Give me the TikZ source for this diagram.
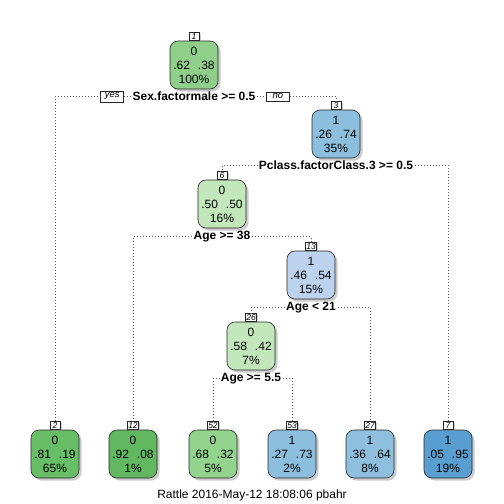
\documentclass[tikz,border=0pt]{standalone}
\usepackage{fontspec}
\setmainfont{Liberation Sans}
\usetikzlibrary{positioning,shadows}

\definecolor{grA}{RGB}{143,207,138}
\definecolor{grB}{RGB}{104,189,103}
\definecolor{grC}{RGB}{97,184,96}
\definecolor{grD}{RGB}{146,212,141}
\definecolor{grE}{RGB}{194,231,186}
\definecolor{blA}{RGB}{140,190,221}
\definecolor{blB}{RGB}{189,211,237}
\definecolor{blC}{RGB}{143,191,222}
\definecolor{blD}{RGB}{88,158,208}

\tikzset{
 leaf/.style={draw=black!85, line width=0.6pt, rounded corners=8pt, minimum width=48pt, minimum height=48pt,
   inner sep=0pt, align=center, font=\fontsize{12}{14}\selectfont,
   drop shadow={shadow xshift=2.5pt, shadow yshift=-2.5pt, fill=black!40}},
 num/.style={draw=black!85, line width=0.5pt, fill=white, inner sep=1pt, minimum width=10pt,
   font=\fontsize{8.5}{9}\selectfont\itshape,
   drop shadow={shadow xshift=1.5pt, shadow yshift=-1.5pt, fill=black!40}},
 split/.style={inner sep=1.5pt, font=\fontsize{12}{14}\selectfont\bfseries},
 yesno/.style={draw=black!85, line width=0.5pt, fill=white, inner sep=2pt, minimum width=23pt,
   font=\fontsize{9.5}{10}\selectfont\itshape},
 conn/.style={draw=black!65, line width=0.7pt, dash pattern=on 0.7pt off 2.3pt}
}

\newcommand{\probs}[3]{#1\\#2\hspace{8pt}#3}

\begin{document}
\begin{tikzpicture}[x=1pt,y=-1pt]
%\draw[help lines] (0,0) grid[step=50] (504,504);
\useasboundingbox (0,0) rectangle (504,504);

% inner nodes
\node[leaf, fill=grA] (n1) at (194,65) {\probs{0}{.62}{.38}\\100\%};
\node[num, above=0pt of n1] (l1) {1};
\node[split, below=1pt of n1] (s1) {Sex.factormale >= 0.5};

\node[leaf, fill=blA] (n3) at (336,134) {\probs{1}{.26}{.74}\\35\%};
\node[num, above=0pt of n3] (l3) {3};
\node[split, below=1pt of n3] (s3) {Pclass.factorClass.3 >= 0.5};

\node[leaf, fill=grE] (n6) at (222,204) {\probs{0}{.50}{.50}\\16\%};
\node[num, above=0pt of n6] (l6) {6};
\node[split, below=1pt of n6] (s6) {Age >= 38};

\node[leaf, fill=blB] (n13) at (311,275) {\probs{1}{.46}{.54}\\15\%};
\node[num, above=0pt of n13] (l13) {13};
\node[split, below=1pt of n13] (s13) {Age < 21};

\node[leaf, fill=grE] (n26) at (251,346) {\probs{0}{.58}{.42}\\7\%};
\node[num, above=0pt of n26] (l26) {26};
\node[split, below=1pt of n26] (s26) {Age >= 5.5};

% leaves
\node[leaf, fill=grB] (n2) at (55,454) {\probs{0}{.81}{.19}\\65\%};
\node[num, above=0pt of n2] (l2) {2};
\node[leaf, fill=grC] (n12) at (133,454) {\probs{0}{.92}{.08}\\1\%};
\node[num, above=0pt of n12] (l12) {12};
\node[leaf, fill=grD] (n52) at (213,454) {\probs{0}{.68}{.32}\\5\%};
\node[num, above=0pt of n52] (l52) {52};
\node[leaf, fill=blA] (n53) at (292,454) {\probs{1}{.27}{.73}\\2\%};
\node[num, above=0pt of n53] (l53) {53};
\node[leaf, fill=blC] (n27) at (370,454) {\probs{1}{.36}{.64}\\8\%};
\node[num, above=0pt of n27] (l27) {27};
\node[leaf, fill=blD] (n7) at (448,454) {\probs{1}{.05}{.95}\\19\%};
\node[num, above=0pt of n7] (l7) {7};

\node[yesno, left=7pt of s1] (yes) {yes};
\node[yesno, right=9pt of s1] (no) {no};

% branches
\draw[conn] (s1.west) -- (yes.east);
\draw[conn] (yes.west) -| (l2.north);
\draw[conn] (s1.east) -- (no.west);
\draw[conn] (no.east) -| (l3.north);

\draw[conn] (s3.west) -| (l6.north);
\draw[conn] (s3.east) -| (l7.north);

\draw[conn] (s6.west) -| (l12.north);
\draw[conn] (s6.east) -| (l13.north);

\draw[conn] (s13.west) -| (l26.north);
\draw[conn] (s13.east) -| (l27.north);

\draw[conn] (s26.west) -| (l52.north);
\draw[conn] (s26.east) -| (l53.north);

\node[font=\fontsize{12}{14}\selectfont] (cap) at (252,495) {Rattle 2016-May-12 18:08:06 pbahr};

\end{tikzpicture}
\end{document}
